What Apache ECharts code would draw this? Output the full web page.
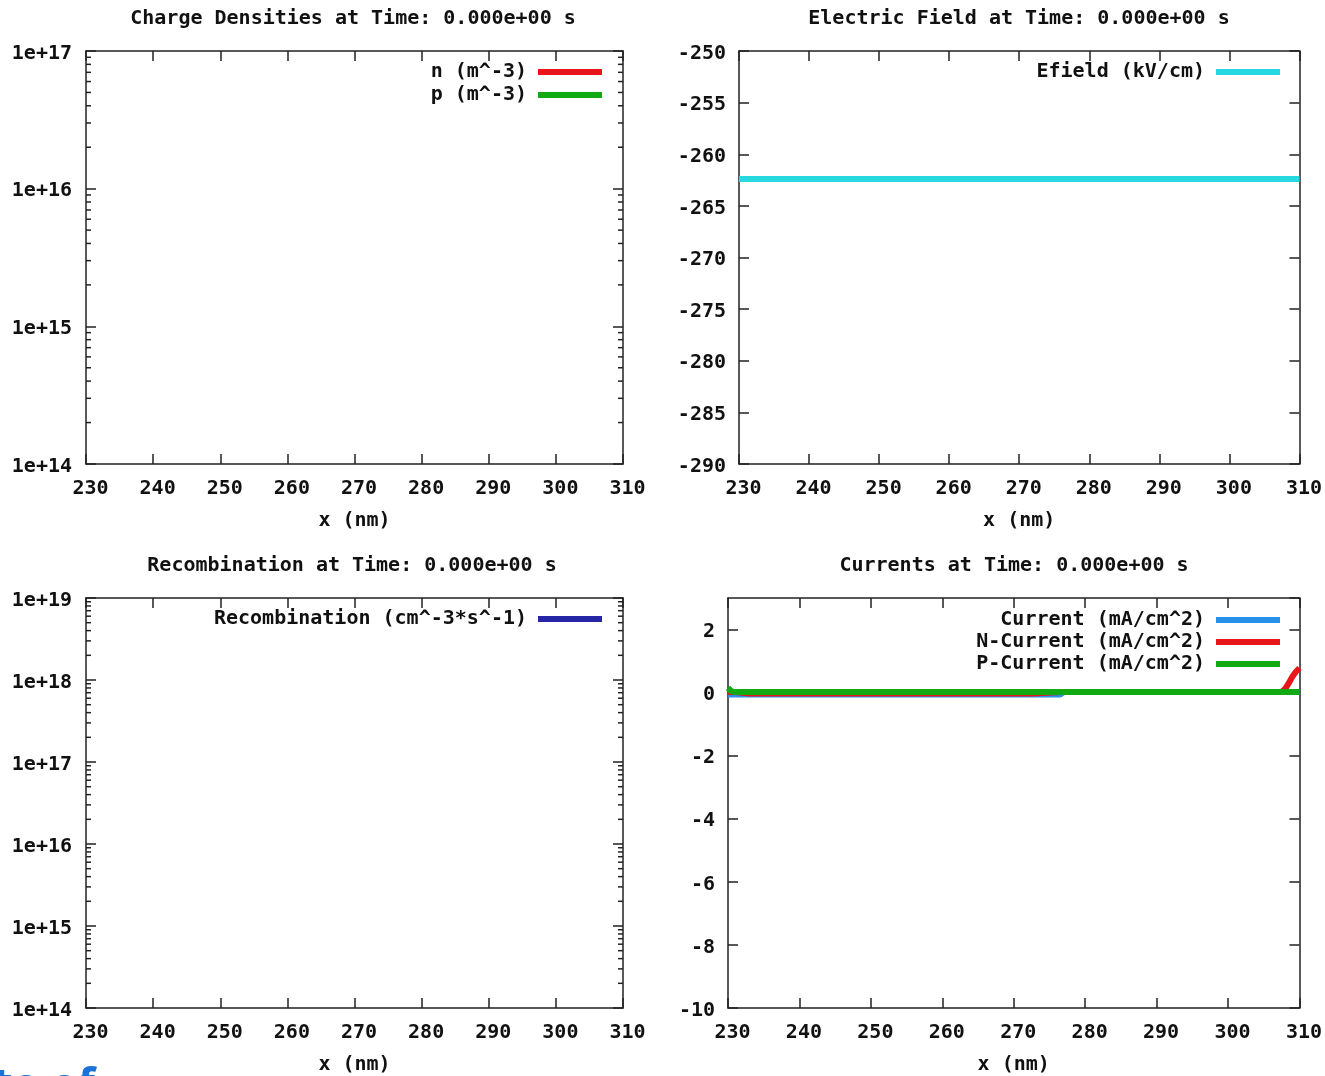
<!DOCTYPE html>
<html>
<head>
<meta charset="utf-8">
<title>Simulation state at t = 0</title>
<script src="https://cdn.jsdelivr.net/npm/echarts@6/dist/echarts.min.js"></script>
<style>
  html, body { margin: 0; padding: 0; background: #fff; }
  #chart { width: 1325px; height: 1076px; }
</style>
</head>
<body>
<div id="chart"></div>
<script>
// ---- shared x axis (position along the device, nm) ----
const X_MIN = 230;
const X_MAX = 310;
const X_STEP = 10;

// ---- Charge densities (log scale); nothing in range at t = 0 ----
const densityX = [];
const nDensity = [];
const pDensity = [];

// ---- Electric field (kV/cm) ----
const efieldX = [230, 240, 250, 260, 270, 280, 290, 300, 310];
const efield  = [-262.4, -262.4, -262.4, -262.4, -262.4, -262.4, -262.4, -262.4, -262.4];

// ---- Recombination (log scale); nothing in range at t = 0 ----
const recombX = [];
const recomb = [];

// ---- Currents (mA/cm^2) ----
const currentX = [230, 230.5, 231, 233, 240, 250, 260, 270, 272.8, 273, 276.5, 277, 280, 290, 300, 307.5, 308, 308.5, 309, 309.5, 310];
const totalCurrent = [-0.06, -0.06, -0.06, -0.06, -0.06, -0.06, -0.06, -0.06, -0.06, -0.06, -0.06, 0.02, 0.02, 0.02, 0.02, 0.02, 0.02, 0.02, 0.02, 0.02, 0.02];
const nCurrent     = [0.02, 0.02, 0.02, -0.03, -0.03, -0.03, -0.03, -0.03, -0.03, 0.02, 0.02, 0.02, 0.02, 0.02, 0.02, 0.02, 0.12, 0.3, 0.5, 0.66, 0.78];
const pCurrent     = [0.15, 0.04, 0.02, 0.02, 0.02, 0.02, 0.02, 0.02, 0.02, 0.02, 0.02, 0.02, 0.02, 0.02, 0.02, 0.02, 0.02, 0.02, 0.02, 0.02, 0.02];

// ---- axis ranges ----
const densityRange = [1e14, 1e17];
const recombRange  = [1e14, 1e19];
const efieldRange  = [-290, -250, 5];
const currentRange = [-10, 3, 2];

const TIME_LABEL = '0.000e+00 s';
const FOOTER_TEXT = 'ute of';

const FONT = '"DejaVu Sans Mono", "Liberation Mono", monospace';
const INK = '#111';
const textBase = { fontFamily: FONT, fontSize: 20, fontWeight: 'bold', color: INK };
const frame = { color: '#222', width: 1.5 };

const COLORS = {
  n: '#e8161a', p: '#12aa12', efield: '#27d8e0', recomb: '#2626a6',
  current: '#2890e8', nCur: '#e8161a', pCur: '#12aa12'
};

// plot rectangles (left, top, width, height)
const grids = [
  { left: 86,  top: 51,  width: 537, height: 413 },
  { left: 739, top: 51,  width: 563, height: 413 },
  { left: 86,  top: 598, width: 537, height: 413 },
  { left: 728, top: 598, width: 574, height: 413 }
];

function pairs(xs, ys) { return xs.map((x, i) => [x, ys[i]]); }

// log-scale minor tick values (2..9 × each decade)
function minorLogTicks(range) {
  const out = [];
  const e0 = Math.round(Math.log10(range[0]));
  const e1 = Math.round(Math.log10(range[1]));
  for (let e = e0; e < e1; e++) {
    for (let k = 2; k <= 9; k++) out.push([X_MIN, k * Math.pow(10, e)]);
  }
  return out;
}

// y tick labels sit a touch low, like the terminal font they imitate
const yLabelRich = { t: Object.assign({ padding: [5, 0, 0, 0] }, textBase) };

function xAxes(gi) {
  return [
    {
      gridIndex: gi, type: 'value', position: 'bottom',
      min: X_MIN, max: X_MAX, interval: X_STEP,
      axisLine: { show: true, onZero: false, lineStyle: frame },
      axisTick: { show: true, inside: true, length: 10, lineStyle: frame },
      axisLabel: Object.assign({ margin: 15, padding: [0, 0, 0, 9] }, textBase),
      splitLine: { show: false },
      name: 'x (nm)', nameLocation: 'middle', nameGap: 47,
      nameTextStyle: Object.assign({}, textBase)
    },
    {
      gridIndex: gi, type: 'value', position: 'top',
      min: X_MIN, max: X_MAX, interval: X_STEP,
      axisLine: { show: true, onZero: false, lineStyle: frame },
      axisTick: { show: true, inside: true, length: 10, lineStyle: frame },
      axisLabel: { show: false },
      splitLine: { show: false }
    }
  ];
}

function logYAxes(gi, range) {
  const common = {
    gridIndex: gi, type: 'log', logBase: 10, min: range[0], max: range[1],
    axisLine: { show: true, onZero: false, lineStyle: frame },
    axisTick: { show: true, inside: true, length: 10, lineStyle: frame },
    splitLine: { show: false }
  };
  return [
    Object.assign({}, common, {
      position: 'left',
      axisLabel: Object.assign({
        margin: 14, rich: yLabelRich,
        formatter: v => '{t|1e+' + Math.round(Math.log10(v)) + '}'
      }, textBase)
    }),
    Object.assign({}, common, { position: 'right', axisLabel: { show: false } })
  ];
}

function linYAxes(gi, range) {
  const common = {
    gridIndex: gi, type: 'value', min: range[0], max: range[1], interval: range[2],
    axisLine: { show: true, onZero: false, lineStyle: frame },
    axisTick: { show: true, inside: true, length: 10, lineStyle: frame },
    splitLine: { show: false }
  };
  return [
    Object.assign({}, common, {
      position: 'left',
      axisLabel: Object.assign({
        margin: 13, rich: yLabelRich,
        showMaxLabel: range[1] % range[2] === 0,
        formatter: v => '{t|' + v + '}'
      }, textBase)
    }),
    Object.assign({}, common, { position: 'right', axisLabel: { show: false } })
  ];
}

function lineSeries(name, gi, data, color) {
  return {
    name, type: 'line', xAxisIndex: gi * 2, yAxisIndex: gi * 2,
    data, showSymbol: false, symbol: 'none', silent: true, animation: false,
    lineStyle: { color, width: 6 }, itemStyle: { color }
  };
}

function minorTickSeries(gi, range) {
  return {
    type: 'custom', xAxisIndex: gi * 2, yAxisIndex: gi * 2,
    silent: true, animation: false, clip: false,
    data: minorLogTicks(range),
    encode: { x: 0, y: 1 },
    renderItem(params, api) {
      const y = api.coord([api.value(0), api.value(1)])[1];
      const cs = params.coordSys;
      const st = { stroke: '#222', lineWidth: 1.5 };
      return {
        type: 'group',
        children: [
          { type: 'line', shape: { x1: cs.x, y1: y, x2: cs.x + 5, y2: y }, style: st },
          { type: 'line', shape: { x1: cs.x + cs.width - 5, y1: y, x2: cs.x + cs.width, y2: y }, style: st }
        ]
      };
    }
  };
}

function legend(names, right, top, gap) {
  return {
    data: names, orient: 'vertical', align: 'right',
    right, top, padding: 0, itemGap: gap,
    itemWidth: 64, itemHeight: 6, icon: 'rect',
    selectedMode: false,
    textStyle: Object.assign({ lineHeight: 20, padding: [0, 6, 0, 0] }, textBase)
  };
}

function title(text, cx, top) {
  return { text, left: cx, top, textAlign: 'center', padding: 0, textStyle: Object.assign({}, textBase) };
}

const option = {
  backgroundColor: '#ffffff',
  animation: false,
  title: [
    title('Charge Densities at Time: ' + TIME_LABEL, 353, 9),
    title('Electric Field at Time: ' + TIME_LABEL, 1019, 9),
    title('Recombination at Time: ' + TIME_LABEL, 352, 556),
    title('Currents at Time: ' + TIME_LABEL, 1014, 556)
  ],
  legend: [
    legend(['n (m^-3)', 'p (m^-3)'], 723, 62, 3),
    legend(['Efield (kV/cm)'], 45, 62, 3),
    legend(['Recombination (cm^-3*s^-1)'], 723, 609, 3),
    legend(['Current (mA/cm^2)', 'N-Current (mA/cm^2)', 'P-Current (mA/cm^2)'], 45, 610, 2)
  ],
  grid: grids,
  xAxis: [].concat(xAxes(0), xAxes(1), xAxes(2), xAxes(3)),
  yAxis: [].concat(
    logYAxes(0, densityRange),
    linYAxes(1, efieldRange),
    logYAxes(2, recombRange),
    linYAxes(3, currentRange)
  ),
  // blue heading running off the bottom-left edge of the page
  graphic: [{
    type: 'text', left: -35, top: 1065, silent: true,
    style: { text: FOOTER_TEXT, font: 'bold 44px "Noto Sans", sans-serif', fill: '#1a73d9' }
  }],
  series: [
    lineSeries('n (m^-3)', 0, pairs(densityX, nDensity), COLORS.n),
    lineSeries('p (m^-3)', 0, pairs(densityX, pDensity), COLORS.p),
    minorTickSeries(0, densityRange),
    lineSeries('Efield (kV/cm)', 1, pairs(efieldX, efield), COLORS.efield),
    lineSeries('Recombination (cm^-3*s^-1)', 2, pairs(recombX, recomb), COLORS.recomb),
    minorTickSeries(2, recombRange),
    lineSeries('Current (mA/cm^2)', 3, pairs(currentX, totalCurrent), COLORS.current),
    lineSeries('N-Current (mA/cm^2)', 3, pairs(currentX, nCurrent), COLORS.nCur),
    lineSeries('P-Current (mA/cm^2)', 3, pairs(currentX, pCurrent), COLORS.pCur)
  ]
};

const chart = echarts.init(document.getElementById('chart'), null, { renderer: 'canvas' });
chart.setOption(option);
</script>
</body>
</html>
